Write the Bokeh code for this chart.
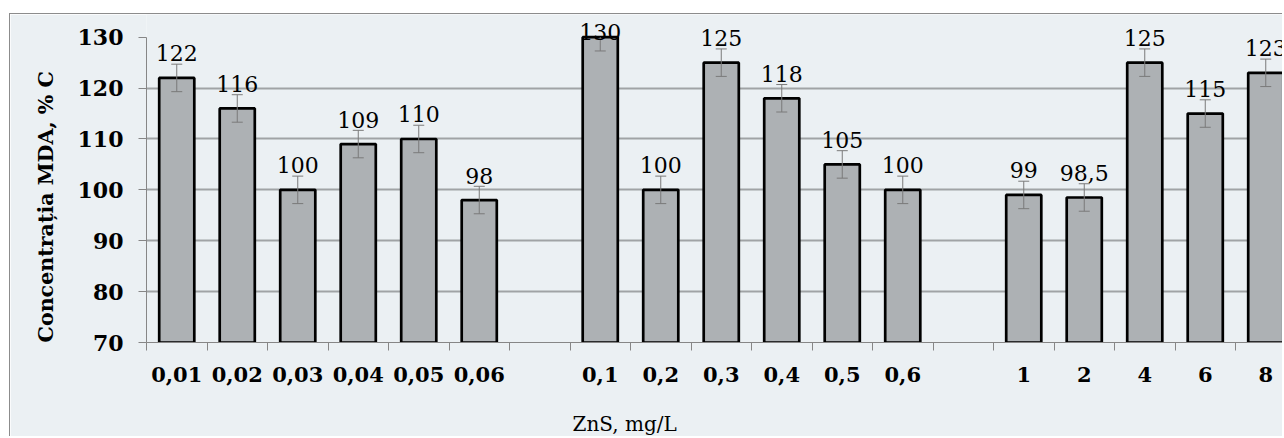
import numpy as np
from bokeh.plotting import figure
from bokeh.models import Range1d, FixedTicker, ColumnDataSource, LabelSet, Title
from bokeh.core.properties import value
from bokeh.embed import file_html
from bokeh.resources import INLINE

# ---- data ----
group1_labels = ["0,01", "0,02", "0,03", "0,04", "0,05", "0,06"]
group1_values = [122, 116, 100, 109, 110, 98]
group2_labels = ["0,1", "0,2", "0,3", "0,4", "0,5", "0,6"]
group2_values = [130, 100, 125, 118, 105, 100]
group3_labels = ["1", "2", "4", "6", "8"]
group3_values = [99, 98.5, 125, 115, 123]
group1_errors = [2.7, 2.7, 2.7, 2.7, 2.7, 2.7]
group2_errors = [2.7, 2.7, 2.7, 2.7, 2.7, 2.7]
group3_errors = [2.7, 2.7, 2.7, 2.7, 2.7]
y_ticks = [70, 80, 90, 100, 110, 120, 130]
grid_ticks = [80, 90, 100, 110, 120]
x_title = "ZnS, mg/L"
y_title = "Concentrația MDA, % C"

# ---- layout constants (page pixels) ----
ORIGIN_X, ORIGIN_Y = 10, 14          # canvas top-left on the page
W, H = 1273, 423
FRAME_LEFT_PX, AXIS_Y_PX, TOP130_PX = 146, 341.7, 36.7
SLOT_PX = 60.5
Y0, Y1 = 70, 130
MB_LEFT = FRAME_LEFT_PX - ORIGIN_X
MB_BOTTOM = int(round(ORIGIN_Y + H - AXIS_Y_PX))
ppu = (AXIS_Y_PX - TOP130_PX) / (Y1 - Y0)
frame_w = W - MB_LEFT
y_top = Y0 + (AXIS_Y_PX - ORIGIN_Y) / ppu   # frame reaches the canvas top

# slots: group, gap, group, gap, group
labels, values, errors, slots = [], [], [], []
slot = 0
for gl, gv, ge in [(group1_labels, group1_values, group1_errors),
                   (group2_labels, group2_values, group2_errors),
                   (group3_labels, group3_values, group3_errors)]:
    for l, v, e in zip(gl, gv, ge):
        labels.append(l); values.append(v); errors.append(e); slots.append(slot)
        slot += 1
    slot += 1  # blank category between groups
n_slots = slot - 1

values = np.array(values, dtype=float)
errors = np.array(errors, dtype=float)
centers = np.array(slots, dtype=float) + 0.5
value_texts = [("%g" % v).replace(".", ",") for v in values]
label_y = np.minimum(values + 16.5 / ppu, Y1 - 2.6 / ppu)
hi = np.minimum(values + errors, Y1)
cap_ok = (values + errors) <= Y1

src = ColumnDataSource(dict(x=centers, top=values, lo=values - errors, hi=hi,
                            ly=label_y, txt=value_texts))
cap_src = ColumnDataSource(dict(x=centers[cap_ok], y=(values + errors)[cap_ok]))

BG = "#ebf0f3"
p = figure(width=W, height=H, output_backend="svg", toolbar_location=None,
           x_range=Range1d(0, frame_w / SLOT_PX), y_range=Range1d(Y0, y_top),
           min_border_left=MB_LEFT, min_border_right=0,
           min_border_top=0, min_border_bottom=MB_BOTTOM,
           background_fill_color=BG, border_fill_color=BG, outline_line_color=None,
           margin=(ORIGIN_Y - 1, 0, 0, ORIGIN_X - 1),
           styles={"border-left": "1px solid #8c8c8c", "border-top": "1px solid #8c8c8c"})

# grid
p.xgrid.visible = False
p.ygrid.ticker = FixedTicker(ticks=grid_ticks)
p.ygrid.grid_line_color = "#a0a3a5"
p.ygrid.grid_line_width = 2

# bars
p.vbar(x="x", top="top", bottom=Y0, width=0.58, source=src,
       fill_color="#adb1b4", line_color="black", line_width=2.7)

# error bars
p.segment(x0="x", y0="lo", x1="x", y1="hi", source=src, line_color="#7a7a7a", line_width=1)
p.scatter(x="x", y="lo", marker="dash", size=11, source=src, line_color="#7a7a7a", line_width=1)
p.scatter(x="x", y="y", marker="dash", size=11, source=cap_src, line_color="#7a7a7a", line_width=1)

# value labels
p.add_layout(LabelSet(x="x", y="ly", text="txt", source=src, text_align="center",
                      text_baseline="alphabetic", text_font=value("DejaVu Serif"),
                      text_font_size=value("22px"), text_color="black"))

# x axis
xa = p.xaxis[0]
xa.ticker = FixedTicker(ticks=list(centers), minor_ticks=list(range(0, n_slots + 1)))
xa.major_label_overrides = {float(c): l for c, l in zip(centers, labels)}
xa.major_tick_out = 0
xa.major_tick_in = 0
xa.minor_tick_out = 8
xa.minor_tick_in = 0
xa.minor_tick_line_color = "#868686"
xa.axis_line_color = "#868686"
xa.major_label_text_font = "DejaVu Serif"
xa.major_label_text_font_style = "bold"
xa.major_label_text_font_size = "21px"
xa.major_label_text_color = "black"
xa.major_label_standoff = 16

# y axis
ya = p.yaxis[0]
ya.ticker = FixedTicker(ticks=y_ticks)
ya.bounds = (Y0, Y1)
ya.major_tick_out = 8
ya.major_tick_in = 0
ya.minor_tick_line_color = None
ya.major_tick_line_color = "#868686"
ya.axis_line_color = "#868686"
ya.major_label_text_font = "DejaVu Serif"
ya.major_label_text_font_style = "bold"
ya.major_label_text_font_size = "22px"
ya.major_label_text_color = "black"
ya.major_label_standoff = 15

# axis titles as side titles
p.add_layout(Title(text=y_title, align="left", offset=0, standoff=33,
                   text_font="DejaVu Serif", text_font_style="bold",
                   text_font_size="20.6px", text_color="black"), "left")
# empty spacer panel between tick labels and the x title
p.add_layout(Title(text=" ", standoff=22, text_font_size="1px"), "below")
p.add_layout(Title(text=x_title, align="left", offset=630 - FRAME_LEFT_PX - 58, standoff=0,
                   text_font="DejaVu Serif", text_font_style="normal",
                   text_font_size="20px", text_color="black"), "below")

open("out.html", "w").write(file_html(p, INLINE))
